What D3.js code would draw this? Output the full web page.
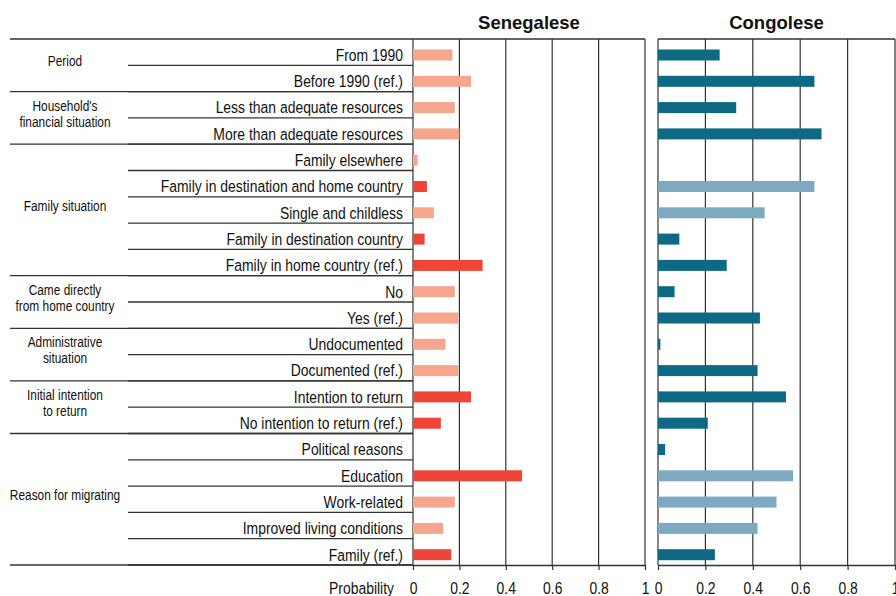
<!DOCTYPE html>
<html>
<head>
<meta charset="utf-8">
<script src="https://cdn.jsdelivr.net/npm/d3@7"></script>
<style>
body{margin:0;background:#fff}
</style>
</head>
<body>
<div id="chart"></div>
<script>
let categories = ["From 1990","Before 1990 (ref.)","Less than adequate resources","More than adequate resources",
    "Family elsewhere","Family in destination and home country","Single and childless","Family in destination country",
    "Family in home country (ref.)","No","Yes (ref.)","Undocumented","Documented (ref.)","Intention to return",
    "No intention to return (ref.)","Political reasons","Education","Work-related","Improved living conditions","Family (ref.)"];
let groupLabels = [["Period"],["Household's","financial situation"],["Family situation"],["Came directly","from home country"],
    ["Administrative","situation"],["Initial intention","to return"],["Reason for migrating"]];
let groupSizes = [2,2,5,2,2,2,5];
let senegalese = [0.17,0.25,0.18,0.20,0.02,0.06,0.09,0.05,0.30,0.18,0.195,0.14,0.195,0.25,0.12,null,0.47,0.18,0.13,0.165];
let senegaleseSig = [0,0,0,0,0,1,0,1,1,0,0,0,0,1,1,0,1,0,0,1];
let congolese = [0.26,0.66,0.33,0.69,null,0.66,0.45,0.09,0.29,0.07,0.43,0.01,0.42,0.54,0.21,0.03,0.57,0.50,0.42,0.24];
let congoleseSig = [1,1,1,1,0,0,0,1,1,1,1,1,1,1,1,1,0,0,0,1];
let tickValues = [0,0.2,0.4,0.6,0.8,1];
let panelTitles = ["Senegalese","Congolese"];

let screen = {width:896,height:596};
let font = "'Liberation Sans',Arial,sans-serif";
let squeeze = 0.82;   // fake a narrow face, no Arial Narrow here
let lineColor = "#333";

let svg = d3.select("#chart").append("svg")
    .attr("width",screen.width)
    .attr("height",screen.height);

let yScale = d3.scaleBand().domain(categories).range([39,565]);
let step = yScale.step();

// left table: row labels and lines
let table = svg.append("g");
table.selectAll("text.row")
    .data(categories)
    .enter()
    .append("text")
    .attr("class","row")
    .attr("transform",function(d){ return "translate(403,"+(yScale(d)+step-4.5)+") scale("+squeeze+",1)"; })
    .attr("text-anchor","end")
    .attr("font-family",font)
    .attr("font-size",17)
    .attr("fill","#111")
    .text(function(d){ return d; });

let start = 0;
let groupStarts = [];
for(let i=0;i<groupSizes.length;i++)
{
    groupStarts.push(start);
    start += groupSizes[i];
}

// row lines inside groups
table.selectAll("line.rowline")
    .data(categories)
    .enter()
    .append("line")
    .attr("x1",128).attr("x2",413)
    .attr("y1",function(d){ return yScale(d)+step; })
    .attr("y2",function(d){ return yScale(d)+step; })
    .attr("stroke",lineColor)
    .attr("stroke-width",1.3);

// group lines
let groupEdges = [0].concat(groupStarts.map(function(s,i){ return s+groupSizes[i]; }));
table.selectAll("line.groupline")
    .data(groupEdges)
    .enter()
    .append("line")
    .attr("x1",10).attr("x2",413)
    .attr("y1",function(d){ return 39+d*step; })
    .attr("y2",function(d){ return 39+d*step; })
    .attr("stroke",lineColor)
    .attr("stroke-width",1.3);

let groupG = table.selectAll("g.group")
    .data(groupLabels)
    .enter()
    .append("g")
    .attr("transform",function(d,i)
    {
        let mid = 39+(groupStarts[i]+groupSizes[i]/2)*step - 3;
        return "translate(65,"+mid+")";
    });
groupG.selectAll("text")
    .data(function(d){ return d; })
    .enter()
    .append("text")
    .attr("text-anchor","middle")
    .attr("dominant-baseline","middle")
    .attr("transform",function(d,i,nodes){ return "translate(0,"+((i-(nodes.length-1)/2)*16)+") scale("+squeeze+",1)"; })
    .attr("font-family",font)
    .attr("font-size",14.5)
    .attr("fill","#111")
    .text(function(d){ return d; });

// panels
let panels = [
    {x:d3.scaleLinear().domain([0,1]).range([413,645]), values:senegalese, sig:senegaleseSig, colors:["#f7a68e","#ef4437"]},
    {x:d3.scaleLinear().domain([0,1]).range([658,895]), values:congolese, sig:congoleseSig, colors:["#7eaac1","#0e6984"]}
];

panels.forEach(function(p,k)
{
    let g = svg.append("g");

    g.append("text")
        .attr("x",(p.x(0)+p.x(1))/2)
        .attr("y",29)
        .attr("text-anchor","middle")
        .attr("font-family",font)
        .attr("font-weight","bold")
        .attr("font-size",18.5)
        .attr("fill","#111")
        .text(panelTitles[k]);

    g.selectAll("line.grid")
        .data(tickValues)
        .enter()
        .append("line")
        .attr("x1",function(d){ return p.x(d); })
        .attr("x2",function(d){ return p.x(d); })
        .attr("y1",39).attr("y2",565)
        .attr("stroke",lineColor)
        .attr("stroke-width",1.2);

    g.append("line")
        .attr("x1",p.x(0)).attr("x2",p.x(1))
        .attr("y1",39).attr("y2",39)
        .attr("stroke",lineColor)
        .attr("stroke-width",1.3);

    let data = p.values.map(function(v,i){ return {cat:categories[i], v:v, sig:p.sig[i]}; })
        .filter(function(d){ return d.v!==null; });

    g.selectAll("rect")
        .data(data)
        .enter()
        .append("rect")
        .attr("x",p.x(0))
        .attr("y",function(d){ return yScale(d.cat)+10.5; })
        .attr("width",function(d){ return p.x(d.v)-p.x(0); })
        .attr("height",11)
        .attr("fill",function(d){ return p.colors[d.sig]; });

    let axis = g.append("g")
        .attr("transform","translate(0,565)")
        .call(d3.axisBottom(p.x).tickValues(tickValues).tickSize(5).tickSizeOuter(0).tickFormat(d3.format("~g")));
    axis.select(".domain").attr("stroke",lineColor).attr("stroke-width",1.3);
    axis.selectAll(".tick line").attr("stroke",lineColor).attr("stroke-width",1.2);
    axis.selectAll(".tick text")
        .attr("y",0)
        .attr("dy",0)
        .attr("transform","translate(0,29) scale("+squeeze+",1)")
        .attr("font-family",font)
        .attr("font-size",17)
        .attr("fill","#111");
});

svg.append("text")
    .attr("transform","translate(394,594) scale("+squeeze+",1)")
    .attr("text-anchor","end")
    .attr("font-family",font)
    .attr("font-size",17)
    .attr("fill","#111")
    .text("Probability");
</script>
</body>
</html>
